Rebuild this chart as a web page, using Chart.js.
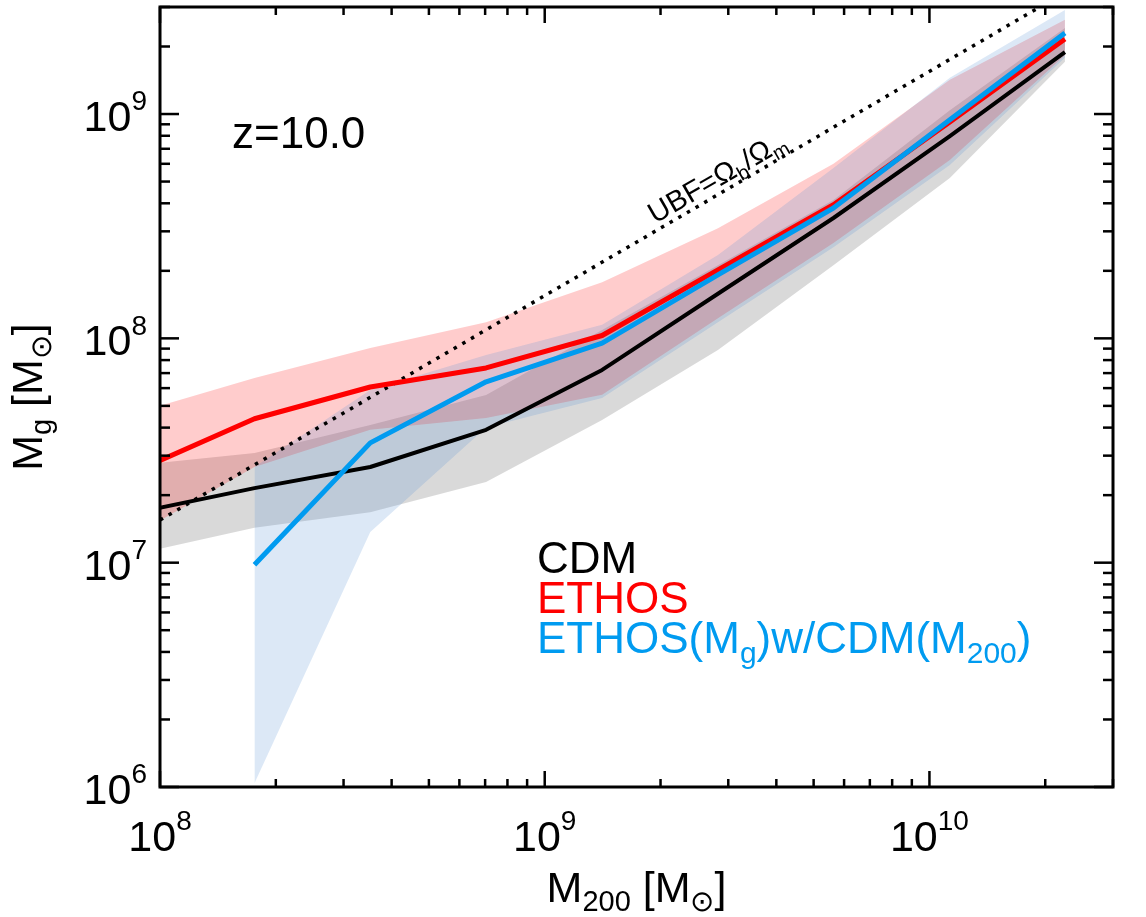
<!DOCTYPE html>
<html>
<head>
<meta charset="utf-8">
<script src="https://cdn.jsdelivr.net/npm/chart.js@4.4.0/dist/chart.umd.min.js"></script>
<style>
  html, body { margin: 0; padding: 0; background: #fff; }
  #wrap { width: 1146px; height: 917px; }
</style>
</head>
<body>
<div id="wrap"><canvas id="chart" width="1146" height="917"></canvas></div>
<script>
// halo mass bins (M200) and gas mass percentiles
const massBins = [8.8e7, 1.76e8, 3.52e8, 7.04e8, 1.41e9, 2.82e9, 5.63e9, 1.13e10, 2.25e10];
const cdmMedian = [1.68e7, 2.15e7, 2.67e7, 3.91e7, 7.23e7, 1.58e8, 3.44e8, 7.98e8, 1.89e9];
const cdmLow = [1.10e7, 1.43e7, 1.68e7, 2.29e7, 4.33e7, 8.87e7, 2.12e8, 5.19e8, 1.71e9];
const cdmHigh = [2.73e7, 3.08e7, 4.11e7, 5.59e7, 1.09e8, 2.12e8, 4.14e8, 1.04e9, 2.42e9];

const ethosMedian = [2.59e7, 4.38e7, 6.07e7, 7.38e7, 1.03e8, 2.02e8, 3.94e8, 9.22e8, 2.16e9];
const ethosLow = [1.36e7, 2.67e7, 3.91e7, 4.42e7, 5.60e7, 1.23e8, 2.66e8, 6.24e8, 1.83e9];
const ethosHigh = [4.70e7, 6.65e7, 9.05e7, 1.18e8, 1.78e8, 3.10e8, 6.00e8, 1.42e9, 2.63e9];

// ETHOS(Mg) w/ CDM(M200) has no point in the lowest bin
const mixBins = [1.76e8, 3.52e8, 7.04e8, 1.41e9, 2.82e9, 5.63e9, 1.13e10, 2.25e10];
const mixMedian = [9.78e6, 3.42e7, 6.40e7, 9.53e7, 1.92e8, 3.81e8, 9.42e8, 2.30e9];
const mixLow = [1.04e6, 1.37e7, 4.00e7, 5.42e7, 1.18e8, 2.55e8, 5.93e8, 1.78e9];
const mixHigh = [2.67e7, 5.89e7, 8.44e7, 1.15e8, 2.35e8, 5.75e8, 1.45e9, 2.91e9];

// universal baryon fraction line
const ubfX = [1e8, 3e10];
const ubfY = [1.55e7, 4.65e9];

// axes
const xMajor = [1e8, 1e9, 1e10];
const xTickExp = ['8', '9', '10'];
const yMajor = [1e6, 1e7, 1e8, 1e9];
const yTickExp = ['6', '7', '8', '9'];

const FONT = '"Liberation Sans", Arial, Helvetica, sans-serif';

function pts(xs, ys) {
    return xs.map((x, i) => ({ x: x, y: ys[i] }));
}

function band(xs, hi, lo, color, order) {
    return [
        { data: pts(xs, hi), fill: '+1', backgroundColor: color, borderColor: 'rgba(0,0,0,0)',
          borderWidth: 0, pointRadius: 0, order: order, clip: 0 },
        { data: pts(xs, lo), fill: false, borderColor: 'rgba(0,0,0,0)', backgroundColor: 'rgba(0,0,0,0)',
          borderWidth: 0, pointRadius: 0, order: order + 1, clip: 0 }
    ];
}

function curve(xs, ys, color, width, order) {
    return { data: pts(xs, ys), fill: false, borderColor: color, borderWidth: width,
             pointRadius: 0, order: order, clip: 0, borderJoinStyle: 'round' };
}

// text with sub / superscripts
function drawRich(ctx, parts, x, y, size, small, align, color) {
    let w = 0;
    parts.forEach(p => {
        ctx.font = (p[1] ? small : size) + 'px ' + FONT;
        w += ctx.measureText(p[0]).width;
    });
    let cx = align === 'center' ? x - w / 2 : (align === 'right' ? x - w : x);
    ctx.fillStyle = color;
    ctx.textAlign = 'left';
    ctx.textBaseline = 'alphabetic';
    parts.forEach(p => {
        ctx.font = (p[1] ? small : size) + 'px ' + FONT;
        let dy = 0;
        if (p[1] === 'sub') dy = size * 0.22;
        if (p[1] === 'sup') dy = -size * 0.48;
        ctx.fillText(p[0], cx, y + dy);
        cx += ctx.measureText(p[0]).width;
    });
}

const framePlugin = {
    id: 'frame',
    afterDatasetsDraw(chart) {
        const ctx = chart.ctx, a = chart.chartArea;
        const xs = chart.scales.x, ys = chart.scales.y;
        ctx.save();
        ctx.strokeStyle = '#000';
        ctx.lineWidth = 2.5;
        const seg = (x1, y1, x2, y2) => {
            ctx.beginPath(); ctx.moveTo(x1, y1); ctx.lineTo(x2, y2); ctx.stroke();
        };
        // x ticks, bottom and top
        for (let e = 8; e <= 10; e++) {
            for (let m = 1; m <= 9; m++) {
                const v = m * Math.pow(10, e);
                if (v < xs.min || v > xs.max) continue;
                const px = xs.getPixelForValue(v);
                const len = m === 1 ? 16 : 8;
                seg(px, a.bottom, px, a.bottom - len);
                seg(px, a.top, px, a.top + len);
            }
        }
        // y ticks, left and right
        for (let e = 6; e <= 9; e++) {
            for (let m = 1; m <= 9; m++) {
                const v = m * Math.pow(10, e);
                if (v < ys.min || v > ys.max) continue;
                const py = ys.getPixelForValue(v);
                const len = m === 1 ? 19 : 10;
                seg(a.left, py, a.left + len, py);
                seg(a.right, py, a.right - len, py);
            }
        }
        ctx.lineWidth = 3;
        ctx.strokeRect(a.left, a.top, a.right - a.left, a.bottom - a.top);

        // tick labels
        xMajor.forEach((v, i) => {
            drawRich(ctx, [['10', ''], [xTickExp[i], 'sup']], xs.getPixelForValue(v), a.bottom + 64, 43, 28, 'center', '#000');
        });
        yMajor.forEach((v, i) => {
            drawRich(ctx, [['10', ''], [yTickExp[i], 'sup']], a.left - 13, ys.getPixelForValue(v) + 17, 43, 28, 'right', '#000');
        });

        // axis titles
        drawRich(ctx, [['M', ''], ['200', 'sub'], [' [M', ''], ['\u2299', 'sub'], [']', '']],
                 (a.left + a.right) / 2, 902, 43, 29, 'center', '#000');
        ctx.save();
        ctx.translate(42, (a.top + a.bottom) / 2);
        ctx.rotate(-Math.PI / 2);
        drawRich(ctx, [['M', ''], ['g', 'sub'], [' [M', ''], ['\u2299', 'sub'], [']', '']],
                 0, 0, 43, 29, 'center', '#000');
        ctx.restore();

        // annotations
        drawRich(ctx, [['z=10.0', '']], 232, 148, 44, 30, 'left', '#000');
        ctx.save();
        ctx.translate(655, 224);
        ctx.rotate(-30 * Math.PI / 180);
        drawRich(ctx, [['UBF=\u03A9', ''], ['b', 'sub'], ['/\u03A9', ''], ['m', 'sub']], 0, 0, 29, 20, 'left', '#000');
        ctx.restore();

        // legend
        drawRich(ctx, [['CDM', '']], 537, 573, 44, 30, 'left', '#000');
        drawRich(ctx, [['ETHOS', '']], 537, 613, 44, 30, 'left', '#ff0000');
        drawRich(ctx, [['ETHOS(M', ''], ['g', 'sub'], [')w/CDM(M', ''], ['200', 'sub'], [')', '']],
                 537, 653, 44, 30, 'left', 'rgb(0,155,240)');
        ctx.restore();
    }
};

const datasets = [].concat(
    band(massBins, cdmHigh, cdmLow, 'rgba(0,0,0,0.15)', 30),
    band(massBins, ethosHigh, ethosLow, 'rgba(255,0,0,0.2)', 20),
    band(mixBins, mixHigh, mixLow, 'rgba(80,140,210,0.2)', 10),
    [
        { data: pts(ubfX, ubfY), fill: false, borderColor: '#000', borderWidth: 3.5,
          borderDash: [3.5, 6.5], borderCapStyle: 'butt', pointRadius: 0, order: 5, clip: 0 },
        curve(massBins, cdmMedian, '#000', 4, 3),
        curve(massBins, ethosMedian, '#ff0000', 5, 2),
        curve(mixBins, mixMedian, 'rgb(0,155,240)', 5, 1)
    ]
);

new Chart(document.getElementById('chart'), {
    type: 'line',
    data: { datasets: datasets },
    options: {
        responsive: false,
        animation: false,
        layout: { padding: { left: 160, right: 33, top: 7, bottom: 130 } },
        plugins: { legend: { display: false }, tooltip: { enabled: false } },
        elements: { line: { tension: 0 } },
        scales: {
            x: { type: 'logarithmic', min: 1e8, max: 3e10, display: false },
            y: { type: 'logarithmic', min: 1e6, max: 3e9, display: false }
        }
    },
    plugins: [framePlugin]
});
</script>
</body>
</html>
